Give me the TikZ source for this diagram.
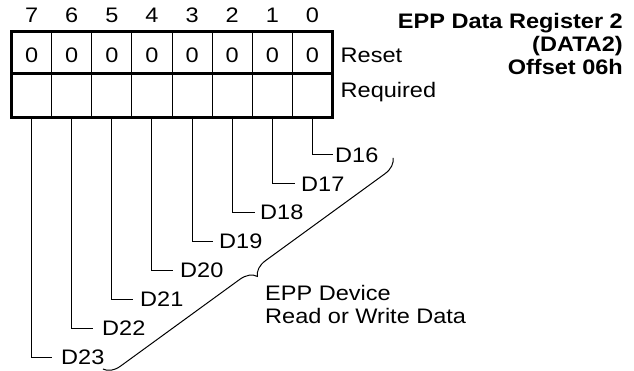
\documentclass[tikz,border=0pt]{standalone}
\usepackage{fontspec}
\usepackage{graphicx}
\setmainfont{Liberation Sans}
\usetikzlibrary{decorations.pathreplacing}
\newcommand\sx[1]{\scalebox{1.12}[1]{#1}}
\begin{document}
\begin{tikzpicture}[x=1pt,y=-1pt,
  txt/.style={inner sep=0pt, font=\fontsize{21}{23}\selectfont},
  btxt/.style={txt, font=\fontsize{21}{23}\selectfont\bfseries, anchor=base east},
  thinln/.style={line width=1pt},
  thickln/.style={line width=3pt},
  bracestyle/.style={line width=1pt, decorate, decoration={brace, amplitude=16pt}}
  ]
\useasboundingbox (0,0) rectangle (634,371);
% title
\node[btxt] (t1) at (623,28.5) {\sx{EPP Data Register 2}};
\node[btxt] (t2) at (623,51.5) {\sx{(DATA2)}};
\node[btxt] (t3) at (623,74.5) {\sx{Offset 06h}};
% columns
\foreach \i in {0,...,7} {
  \pgfmathsetmacro\cx{31.56+40.125*\i}
  \pgfmathtruncatemacro\b{7-\i}
  \node[txt, anchor=base] (n\b) at (\cx,23) {\sx{\b}};
  \node[txt, anchor=base] (z\b) at (\cx,63) {\sx{0}};
  \coordinate (b\b) at (\cx,118);
}
\foreach \i in {1,...,7} {
  \draw[thinln] ({11.5+40.125*\i},31.5) -- ({11.5+40.125*\i},118);
}
\draw[thickln] (11.5,31.5) rectangle (332.5,118);
\draw[thickln] (11.5,73.5) -- (332.5,73.5);
\node[txt, anchor=base west] (reset) at (340.5,62.7) {\sx{Reset}};
\node[txt, anchor=base west] (req) at (340.5,97.5) {\sx{Required}};
% leaders
\foreach \b/\ex/\tx in {0/333/335, 1/295/301, 2/255/260, 3/213/219, 4/173/180, 5/133/140, 6/93/102, 7/52/61} {
  \pgfmathsetmacro\ly{155+28.857*\b}
  \pgfmathtruncatemacro\d{16+\b}
  \coordinate (e\b) at (\ex,\ly);
  \node[txt, anchor=west] (d\b) at (\tx,\ly) {\sx{D\d}};
  \draw[thinln] (b\b) |- (e\b);
}
% brace
\coordinate (br1) at (393,158);
\coordinate (br2) at (103,369);
\draw[bracestyle] (br1) -- (br2);
\node[txt, anchor=base west] (epp1) at (265,300) {\sx{EPP Device}};
\node[txt, anchor=base west] (epp2) at (265,323.3) {\sx{Read or Write Data}};
\end{tikzpicture}
\end{document}
